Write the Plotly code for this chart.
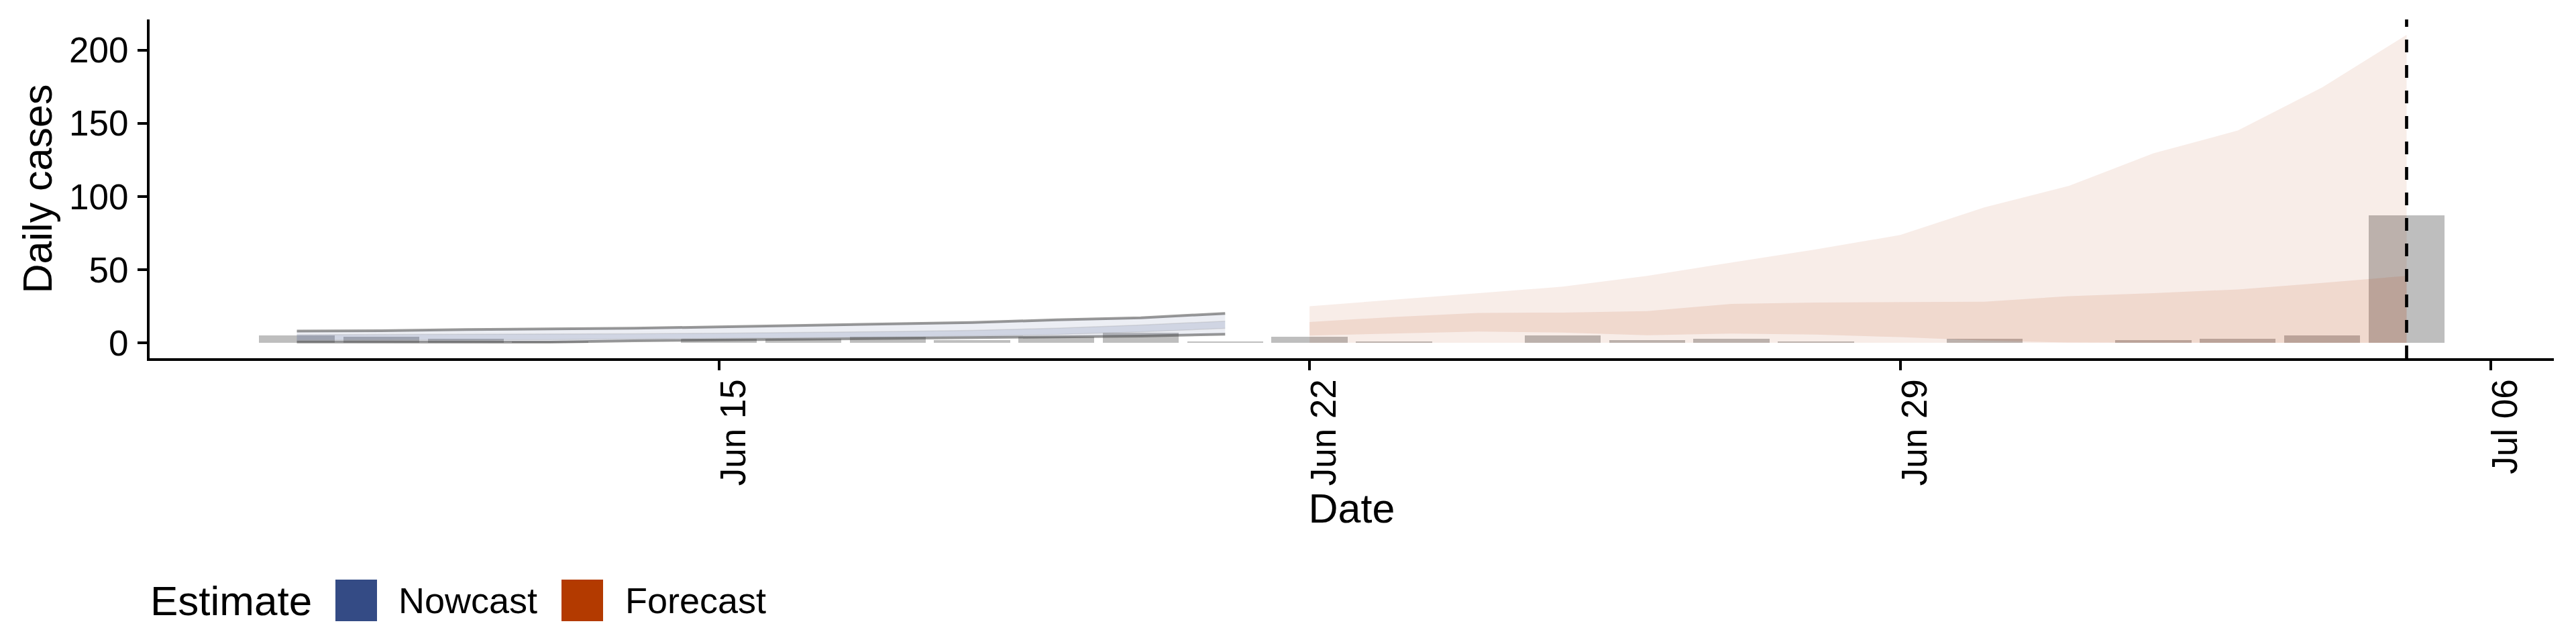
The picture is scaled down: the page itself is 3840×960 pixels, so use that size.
import pandas as pd
import plotly.graph_objects as go

# ---------------- data ----------------
report_dates = pd.date_range("2020-06-10", "2020-07-05", freq="D")
reported_cases = [5, 4, 3, 1, 0, 3, 3, 4, 2, 4, 7, 1, 4, 1, 0, 5, 2, 3, 1, 0, 3, 0, 2, 3, 5, 87]

nowcast_dates = pd.date_range("2020-06-10", "2020-06-21", freq="D")
nowcast_lower90 = [0.6, 0.5, 0.4, 0.5, 1.4, 2.0, 2.5, 3.2, 3.6, 4.0, 4.6, 5.9]
nowcast_upper90 = [8.0, 8.3, 9.1, 9.4, 10.0, 10.9, 12.0, 13.1, 13.9, 15.7, 17.1, 20.1]
nowcast_lower50 = [2.0, 2.0, 2.0, 2.1, 2.6, 3.0, 3.4, 3.9, 4.6, 5.6, 7.5, 9.9]
nowcast_upper50 = [5.5, 5.6, 5.8, 6.0, 6.2, 6.6, 7.1, 7.7, 8.5, 10.0, 12.2, 14.8]

forecast_dates = pd.date_range("2020-06-22", "2020-07-05", freq="D")
forecast_lower90 = [0.0, 0.0, 0.0, 0.0, 0.0, 0.0, 0.0, 0.0, 0.0, 0.0, 0.0, 0.0, 0.0, 0.0]
forecast_upper90 = [25.0, 29.4, 34.0, 38.4, 45.8, 54.9, 63.9, 73.7, 92.6, 107.3, 129.5, 145.1, 174.6, 210.5]
forecast_lower50 = [5.0, 6.5, 7.7, 7.0, 5.2, 6.3, 5.6, 3.9, 1.5, 0.3, 0.0, 0.0, 0.0, 0.0]
forecast_upper50 = [14.2, 17.7, 20.4, 20.7, 21.7, 26.6, 27.5, 27.8, 28.1, 31.9, 34.0, 36.5, 40.9, 45.8]

estimate_types = ["Nowcast", "Forecast"]
estimate_colours = ["#344B85", "#B33A00"]
forecast_start_line = "2020-07-05"

y_ticks = [0, 50, 100, 150, 200]
x_tick_dates = ["2020-06-15", "2020-06-22", "2020-06-29", "2020-07-06"]
x_tick_labels = ["Jun 15", "Jun 22", "Jun 29", "Jul 06"]

# ---------------- style ----------------
FONT = "Liberation Sans, Arial, Helvetica, sans-serif"
W, H = 3840, 960
ML, MR, MT, MB = 223, 33, 29, 426
PW, PH = W - ML - MR, H - MT - MB


def rgba(hex_col, a):
    h = hex_col.lstrip("#")
    r, g, b = int(h[0:2], 16), int(h[2:4], 16), int(h[4:6], 16)
    return f"rgba({r},{g},{b},{a})"


fig = go.Figure()

# reported cases (bars)
bar_width_days = 0.9
fig.add_trace(go.Bar(
    x=report_dates, y=reported_cases,
    width=bar_width_days * 86400000,
    marker=dict(color="#BEBEBE", line=dict(width=0)),
    showlegend=False, hoverinfo="x+y",
))


def ribbon(dates, lower, upper, fill, line_col=None, line_w=0):
    ln = dict(width=line_w, color=line_col) if line_col else dict(width=0, color="rgba(0,0,0,0)")
    fig.add_trace(go.Scatter(x=dates, y=lower, mode="lines", line=ln,
                             showlegend=False, hoverinfo="skip"))
    fig.add_trace(go.Scatter(x=dates, y=upper, mode="lines", line=ln,
                             fill="tonexty", fillcolor=fill,
                             showlegend=False, hoverinfo="skip"))


now_col, fc_col = estimate_colours
ribbon(nowcast_dates, nowcast_lower90, nowcast_upper90, rgba(now_col, 0.095),
       "rgba(70,70,70,0.55)", 4)
ribbon(nowcast_dates, nowcast_lower50, nowcast_upper50, rgba(now_col, 0.15),
       "rgba(150,150,150,0.25)", 1.5)
ribbon(forecast_dates, forecast_lower90, forecast_upper90, rgba(fc_col, 0.09))
ribbon(forecast_dates, forecast_lower50, forecast_upper50, rgba(fc_col, 0.11))

# axis ranges (5% expansion like ggplot)
half = pd.Timedelta(hours=24 * bar_width_days / 2)
x_lo = report_dates.min() - half
x_hi = report_dates.max() + half
x_pad = (x_hi - x_lo) * 0.05
all_y = reported_cases + nowcast_upper90 + forecast_upper90 + [0]
y_lo, y_hi = min(all_y), max(all_y)
y_pad = (y_hi - y_lo) * 0.05

shapes = [dict(type="line", xref="x", yref="paper",
               x0=forecast_start_line, x1=forecast_start_line, y0=0, y1=1,
               line=dict(color="black", width=4.7, dash="19px,19px"), layer="above")]


def px_x(px):
    return (px - ML) / PW


def px_y(py):
    return (H - MB - py) / PH


annotations = []
# legend (drawn manually to match the large square keys)
annotations.append(dict(text="Estimate", xref="paper", yref="paper",
                        x=px_x(222), y=px_y(895), xanchor="left", yanchor="middle",
                        showarrow=False, font=dict(family=FONT, size=62, color="black")))
key_x = [500, 837]
text_x = [592, 930]
for name, col, kx, tx in zip(estimate_types, estimate_colours, key_x, text_x):
    shapes.append(dict(type="rect", xref="paper", yref="paper",
                       x0=px_x(kx), x1=px_x(kx + 62), y0=px_y(926), y1=px_y(864),
                       fillcolor=col, line=dict(width=0)))
    annotations.append(dict(text=name, xref="paper", yref="paper",
                            x=px_x(tx), y=px_y(895), xanchor="left", yanchor="middle",
                            showarrow=False, font=dict(family=FONT, size=54, color="black")))

fig.update_layout(
    width=W, height=H, autosize=False,
    margin=dict(l=ML, r=MR, t=MT, b=MB, pad=0),
    paper_bgcolor="white", plot_bgcolor="white",
    font=dict(family=FONT, color="black"),
    bargap=0, barmode="overlay",
    shapes=shapes, annotations=annotations,
    showlegend=False,
)

fig.update_xaxes(
    type="date", range=[x_lo - x_pad, x_hi + x_pad],
    tickmode="array", tickvals=x_tick_dates, ticktext=x_tick_labels,
    tickangle=-90, tickfont=dict(family=FONT, size=53, color="black"),
    ticks="outside", ticklen=14, tickwidth=4, tickcolor="black",
    ticklabelstandoff=-8, ticklabelshift=22,
    showline=True, linewidth=4, linecolor="black",
    showgrid=False, zeroline=False,
    title=dict(text="Date", font=dict(family=FONT, size=61, color="black"), standoff=9),
)
fig.update_yaxes(
    range=[y_lo - y_pad, y_hi + y_pad],
    tickmode="array", tickvals=y_ticks, ticktext=[str(v) for v in y_ticks],
    tickfont=dict(family=FONT, size=53, color="black"),
    ticks="outside", ticklen=14, tickwidth=4, tickcolor="black",
    ticklabelstandoff=3,
    showline=True, linewidth=4, linecolor="black",
    showgrid=False, zeroline=False,
    title=dict(text="Daily cases", font=dict(family=FONT, size=61, color="black"), standoff=7),
)

fig.write_html("out.html", config={"displayModeBar": False},
               post_script="document.body.style.margin='0';")
